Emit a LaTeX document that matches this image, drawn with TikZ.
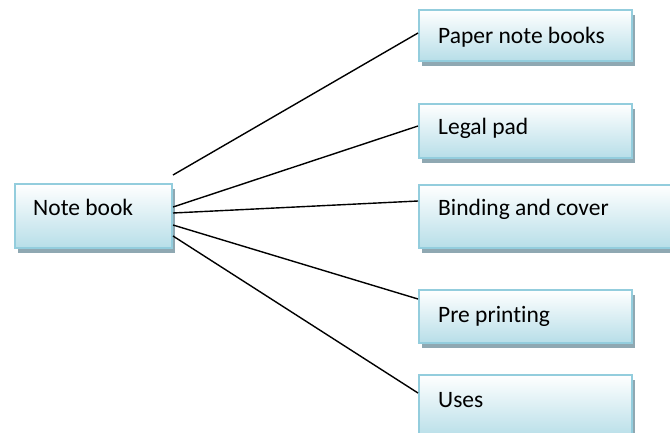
\documentclass[tikz,border=0pt]{standalone}
\usepackage{fontspec}
\setmainfont{Carlito}[Ligatures=NoCommon]
\usetikzlibrary{shadows}
\definecolor{boxborder}{HTML}{93CDDD}
\definecolor{boxfill}{HTML}{B7DEE8}
\definecolor{shadowc}{HTML}{8FA8B2}
\begin{document}
\begin{tikzpicture}[x=1pt,y=-1pt,
  box/.style={draw=boxborder, line width=2pt, top color=white, bottom color=boxfill,
    inner sep=0pt, anchor=north west,
    drop shadow={shadow xshift=3pt, shadow yshift=-5pt, fill=shadowc, opacity=1}},
  lbl/.style={anchor=base west, inner sep=0pt, font=\fontsize{23.5}{28}\selectfont},
  conn/.style={draw=black, line width=1.4pt}]
\useasboundingbox (0,0) rectangle (670,432);
\node[box, minimum width=157pt, minimum height=64pt] (nb) at (14,183) {};
\node[box, minimum width=213pt, minimum height=51pt] (p1) at (418,9) {};
\node[box, minimum width=213pt, minimum height=54pt] (p2) at (418,103) {};
\node[box, minimum width=258pt, minimum height=63pt] (p3) at (418,184) {};
\node[box, minimum width=213pt, minimum height=53pt] (p4) at (418,289) {};
\node[box, minimum width=213pt, minimum height=63pt] (p5) at (418,374) {};
\node[lbl] (l0) at (33,215) {Note book};
\node[lbl] (l1) at (438,43) {Paper note books};
\node[lbl] (l2) at (438,134) {Legal pad};
\node[lbl] (l3) at (438,215) {Binding and cover};
\node[lbl] (l4) at (438,322) {Pre printing};
\node[lbl] (l5) at (438,407) {Uses};
\draw[conn] ([yshift=41pt]nb.east) -- ([yshift=2.5pt]p1.west);
\draw[conn] ([yshift=9pt]nb.east) -- ([yshift=5pt]p2.west);
\draw[conn] ([yshift=3pt]nb.east) -- ([yshift=15.5pt]p3.west);
\draw[conn] ([yshift=-9pt]nb.east) -- ([yshift=17.5pt]p4.west);
\draw[conn] ([yshift=-20pt]nb.east) -- ([yshift=13.5pt]p5.west);
\end{tikzpicture}
\end{document}
